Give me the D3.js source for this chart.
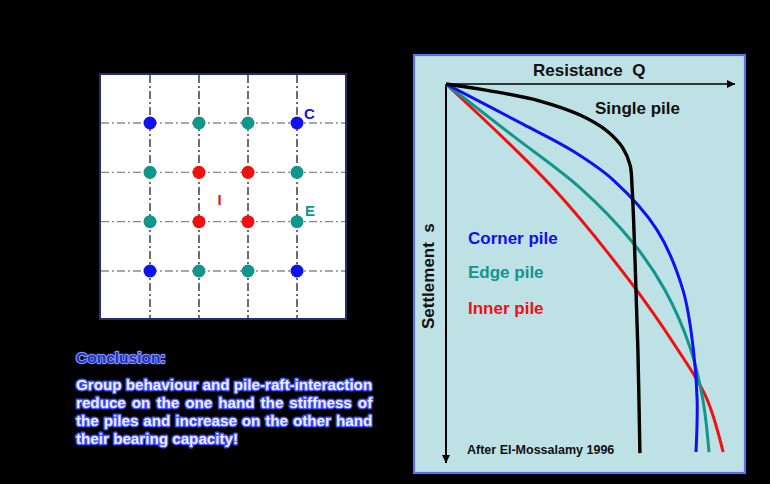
<!DOCTYPE html>
<html><head><meta charset="utf-8">
<script src="https://cdn.jsdelivr.net/npm/d3@7"></script>
<style>
html,body{margin:0;padding:0;background:#000;}
svg{display:block;}
text{font-family:"Liberation Sans",Arial,sans-serif;font-weight:bold;}
</style></head>
<body>
<script>
// ---------- data ----------
// Load–settlement curves (Q: resistance, s: settlement, relative units 0..100)
const singleQ = [0, 15.2, 32.5, 46.4, 55.7, 61.2, 63.7, 64.4, 65.4, 66.4, 67.1];
const singleS = [0, 1.8, 4.5, 8.2, 12.4, 16.9, 21.4, 27.4, 46.4, 70.2, 97.4];
const cornerQ = [0, 26.6, 43.9, 57.8, 73.0, 82.0, 85.5, 86.9, 86.5];
const cornerS = [0, 10.6, 17.7, 25.3, 38.5, 54.4, 69.4, 83.4, 97.1];
const edgeQ = [0, 23.2, 46.4, 64.7, 75.8, 84.4, 88.9, 91.0];
const edgeS = [0, 13.7, 27.4, 41.9, 54.4, 69.4, 83.4, 97.1];
const innerQ = [0, 37.0, 63.3, 79.6, 90.0, 95.9];
const innerS = [0, 27.4, 51.7, 69.4, 82.6, 97.1];
const seriesNames = ["Single pile", "Corner pile", "Edge pile", "Inner pile"];
// Pile group layout (4 x 4): C = corner, E = edge, I = inner
const gridRows = [0, 1, 2, 3];
const gridCols = [0, 1, 2, 3];
const pileTypes = [
  ["C","E","E","C"],
  ["E","I","I","E"],
  ["E","I","I","E"],
  ["C","E","E","C"]
];
const conclusionTitle = "Conclusion:";
const conclusionLines = [
  "Group behaviour and pile-raft-interaction",
  "reduce on the one hand the stiffness of",
  "the piles and increase on the other hand",
  "their bearing capacity!"
];

// ---------- drawing ----------
const W = 770, H = 484;
const svg = d3.select("body").append("svg").attr("width", W).attr("height", H);
svg.append("rect").attr("width", W).attr("height", H).attr("fill", "#000");

const colors = {C: "#1010f0", E: "#12968c", I: "#f01010", S: "#000"};

// ----- left: pile grid -----
const gx = d3.scaleLinear().domain([0, 3]).range([150, 297]);
const gy = d3.scaleLinear().domain([0, 3]).range([123, 271]);
const gBox = {x0: 100, y0: 74, x1: 346, y1: 319};
svg.append("rect").attr("x", gBox.x0).attr("y", gBox.y0)
  .attr("width", gBox.x1 - gBox.x0).attr("height", gBox.y1 - gBox.y0)
  .attr("fill", "#fff").attr("stroke", "#24306e").attr("stroke-width", 2);
const grid = svg.append("g");
gridRows.forEach(r => {
  grid.append("line").attr("x1", gBox.x0 + 1).attr("x2", gBox.x1 - 1)
    .attr("y1", gy(r)).attr("y2", gy(r))
    .attr("stroke", "#8a8a8a").attr("stroke-width", 1.3).attr("stroke-dasharray", "8,3,2,3");
});
gridCols.forEach(c => {
  grid.append("line").attr("y1", gBox.y0 + 1).attr("y2", gBox.y1 - 1)
    .attr("x1", gx(c)).attr("x2", gx(c))
    .attr("stroke", "#222").attr("stroke-width", 1.3).attr("stroke-dasharray", "8,3,2,3");
});
const dots = [];
gridRows.forEach(r => gridCols.forEach(c => dots.push({r, c, t: pileTypes[r][c]})));
svg.append("g").selectAll("circle").data(dots).join("circle")
  .attr("cx", d => gx(d.c)).attr("cy", d => gy(d.r)).attr("r", 6.5)
  .attr("fill", d => colors[d.t]);
const lbl = svg.append("g").attr("font-size", 15);
lbl.append("text").attr("x", gx(3) + 7).attr("y", gy(0) - 4).attr("fill", colors.C).text("C");
lbl.append("text").attr("x", gx(3) + 8).attr("y", gy(1) + 44).attr("fill", colors.E).text("E");
lbl.append("text").attr("x", (gx(1) + gx(2)) / 2 - 6).attr("y", (gy(1) + gy(2)) / 2 + 8).attr("fill", colors.I).text("I");

// ----- conclusion text -----
svg.append("text").attr("x", 76).attr("y", 363).attr("font-size", 15.5)
  .attr("fill", "#2535b0").attr("stroke", "#7f8cff").attr("stroke-width", 2.4)
  .attr("paint-order", "stroke").attr("stroke-linejoin", "round").text(conclusionTitle);
const body = svg.append("g").selectAll("text").data(conclusionLines).join("text")
  .attr("x", 76).attr("y", (d, i) => 390 + i * 18).attr("font-size", 15.2)
  .attr("fill", "#eeeeff").attr("stroke", "#4454ff").attr("stroke-width", 2.8)
  .attr("paint-order", "stroke").attr("stroke-linejoin", "round").text(d => d);
// justify all lines except the last to the width of the first
const fullW = body.nodes()[0].getComputedTextLength();
body.each(function(d, i) {
  if (i === 0 || i === conclusionLines.length - 1) return;
  const gaps = d.split(" ").length - 1;
  const extra = fullW - this.getComputedTextLength();
  if (gaps > 0 && extra > 0) d3.select(this).attr("word-spacing", extra / gaps);
});

// ----- right: load-settlement chart -----
svg.append("rect").attr("x", 414).attr("y", 55).attr("width", 331).attr("height", 418)
  .attr("fill", "#bde1e4").attr("stroke", "#5a72e6").attr("stroke-width", 2.2);

const x = d3.scaleLinear().domain([0, 100]).range([446, 735]);
const y = d3.scaleLinear().domain([0, 100]).range([84, 463]);

// axes with arrows
const defs = svg.append("defs");
defs.append("marker").attr("id", "arr").attr("viewBox", "0 0 10 10")
  .attr("refX", 10).attr("refY", 5).attr("markerWidth", 9).attr("markerHeight", 8)
  .attr("markerUnits", "userSpaceOnUse").attr("orient", "auto")
  .append("path").attr("d", "M0,0L10,5L0,10Z").attr("fill", "#000");
svg.append("line").attr("x1", x(0)).attr("y1", y(0)).attr("x2", x(100)).attr("y2", y(0))
  .attr("stroke", "#000").attr("stroke-width", 1.6).attr("marker-end", "url(#arr)");
svg.append("line").attr("x1", x(0)).attr("y1", y(0)).attr("x2", x(0)).attr("y2", y(100))
  .attr("stroke", "#000").attr("stroke-width", 2).attr("marker-end", "url(#arr)");

const line = d3.line().x(d => x(d[0])).y(d => y(d[1])).curve(d3.curveCatmullRom.alpha(0.5));
const series = [
  {q: innerQ, s: innerS, c: colors.I, w: 3},
  {q: edgeQ, s: edgeS, c: colors.E, w: 3},
  {q: cornerQ, s: cornerS, c: colors.C, w: 3},
  {q: singleQ, s: singleS, c: colors.S, w: 3.4}
];
svg.append("g").selectAll("path").data(series).join("path")
  .attr("d", d => line(d.q.map((v, i) => [v, d.s[i]])))
  .attr("fill", "none").attr("stroke", d => d.c).attr("stroke-width", d => d.w)
  .attr("stroke-linecap", "butt");

const t = svg.append("g").attr("font-size", 17);
t.append("text").attr("x", 533).attr("y", 76).attr("fill", "#111")
  .style("white-space", "pre").text("Resistance  Q");
t.append("text").attr("x", 595).attr("y", 114).attr("fill", "#111").text(seriesNames[0]);
t.append("text").attr("x", 468).attr("y", 244).attr("fill", colors.C).text(seriesNames[1]);
t.append("text").attr("x", 468).attr("y", 278).attr("fill", colors.E).text(seriesNames[2]);
t.append("text").attr("x", 468).attr("y", 314).attr("fill", colors.I).text(seriesNames[3]);
t.append("text").attr("transform", "translate(434,329) rotate(-90)").attr("fill", "#111")
  .style("white-space", "pre").text("Settlement  s");
svg.append("text").attr("x", 467).attr("y", 454).attr("font-size", 12.5).attr("fill", "#111")
  .text("After El-Mossalamy 1996");
</script>
</body></html>
